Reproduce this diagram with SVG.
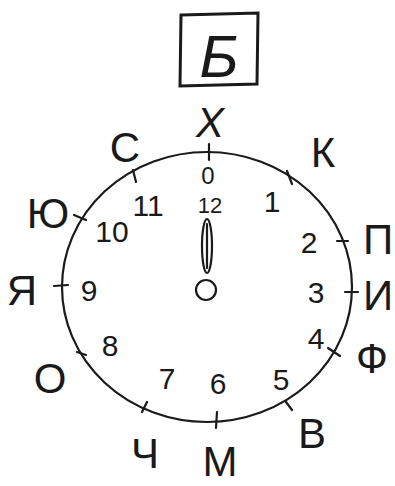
<svg xmlns="http://www.w3.org/2000/svg" width="395" height="486" viewBox="0 0 395 486">
<style>
.l{font-family:"Liberation Sans",Arial,sans-serif;font-size:42px;fill:#1a1a1a;text-anchor:middle}
.n{font-family:"Liberation Sans",Arial,sans-serif;font-size:30px;fill:#1a1a1a;text-anchor:middle}
.s{fill:none;stroke:#1a1a1a;stroke-width:2.2;stroke-linecap:round}
</style>
<rect width="395" height="486" fill="#fff"/>
<g id="title">
<path class="s" d="M181 15 L258 13 L257 84 L180 86 Z" style="stroke-width:3"/>
<text class="l" x="219" y="77" style="font-size:60px;font-style:italic">Б</text>
</g>
<g id="dial">
<ellipse class="s" cx="207" cy="287" rx="145" ry="135"/>
</g>
<g id="ticks">
<path class="s" d="M209 144 L209 160"/>
<path class="s" d="M287 171 L292 184"/>
<path class="s" d="M337 241 L348 241"/>
<path class="s" d="M345 292 L358 292"/>
<path class="s" d="M328 348 L340 356"/>
<path class="s" d="M286 402 L292 410"/>
<path class="s" d="M217 412 L216 428"/>
<path class="s" d="M147 402 L142 412"/>
<path class="s" d="M77 352 L86 355"/>
<path class="s" d="M54 286 L68 285"/>
<path class="s" d="M74 215 L86 220"/>
<path class="s" d="M133 170 L136 182"/>
</g>
<g id="hand">
<ellipse class="s" cx="207" cy="246" rx="5" ry="27"/>
<path class="s" d="M207 224 L207 268"/>
<circle class="s" cx="206" cy="290" r="10"/>
</g>
<g id="letters">
<text class="l" x="210" y="137" font-style="italic">X</text>
<text class="l" x="323" y="167">К</text>
<text class="l" x="378" y="254">П</text>
<text class="l" x="378" y="310">И</text>
<text class="l" x="372" y="373">Ф</text>
<text class="l" x="312" y="448">В</text>
<text class="l" x="220" y="476">М</text>
<text class="l" x="145" y="468">Ч</text>
<text class="l" x="50" y="393">О</text>
<text class="l" x="22" y="305">Я</text>
<text class="l" x="48" y="228">Ю</text>
<text class="l" x="125" y="162">С</text>
</g>
<g id="numbers">
<text class="n" x="208" y="184" style="font-size:24px">0</text>
<text class="n" x="210" y="213" style="font-size:22px">12</text>
<text class="n" x="272" y="212">1</text>
<text class="n" x="309" y="253">2</text>
<text class="n" x="316" y="303">3</text>
<text class="n" x="316" y="349">4</text>
<text class="n" x="281" y="390">5</text>
<text class="n" x="218" y="394">6</text>
<text class="n" x="167" y="389">7</text>
<text class="n" x="110" y="356">8</text>
<text class="n" x="89" y="301">9</text>
<text class="n" x="112" y="242">10</text>
<text class="n" x="148" y="216">11</text>
</g>
</svg>
